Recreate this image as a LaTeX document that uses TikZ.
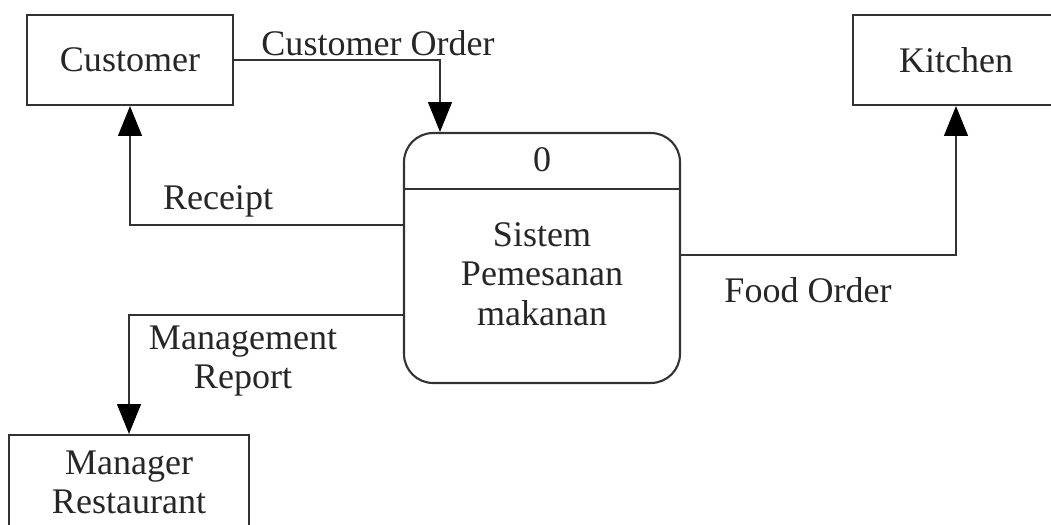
\documentclass[tikz,border=0pt]{standalone}
\usepackage{fontspec}
\setmainfont{Liberation Serif}
\usetikzlibrary{arrows.meta}

\tikzset{
  entity/.style={draw=black!80, line width=1.2pt, minimum width=4.12cm, minimum height=1.8cm, inner sep=0pt},
  process/.style={draw=black!80, line width=1.2pt, rounded corners=0.58cm, minimum width=5.52cm, minimum height=5cm, inner sep=0pt},
  flow/.style={draw=black!80, line width=1.2pt, -{Triangle[length=17pt, width=13.5pt, fill=black, color=black]}},
  lbl/.style={align=center, inner sep=0pt, text=black!85}
}

\begin{document}
\begin{tikzpicture}[x=0.02cm, y=-0.02cm, font=\fontsize{20.5}{22.5}\selectfont]
\useasboundingbox (0,0) rectangle (1051,524);

\node [entity, text=black!85] (customer) at (130,60) {Customer};
\node [entity, text=black!85] (kitchen) at (956,60) {Kitchen};
\node [entity, text=black!85, minimum width=4.8cm, minimum height=1.9cm, align=center] (manager) at (129,482.5) {Manager\\Restaurant};

\node [process] (proc) at (542,258) {};
\coordinate (div) at (0,189);
\draw [black!80, line width=1.2pt] (proc.west |- div) -- (proc.east |- div);
\node [lbl] (pid) at (542,160) {0};
\node [lbl] (pname) at (542,274) {Sistem\\Pemesanan\\makanan};

\coordinate (orderin) at (440,0);
\draw [flow] (customer.east) -| (orderin |- proc.north);
\node [lbl] (lblorder) at (378,43) {Customer Order};

\draw [flow] ([yshift=0.66cm]proc.west) -| (customer.south);
\node [lbl] (lblreceipt) at (218,201) {Receipt};

\draw [flow] ([yshift=-1.14cm]proc.west) -| (manager.north);
\node [lbl] (lblreport) at (243,361) {Management\\Report};

\draw [flow] ([yshift=0.06cm]proc.east) -| (kitchen.south);
\node [lbl] (lblfood) at (808,290) {Food Order};

\end{tikzpicture}
\end{document}
